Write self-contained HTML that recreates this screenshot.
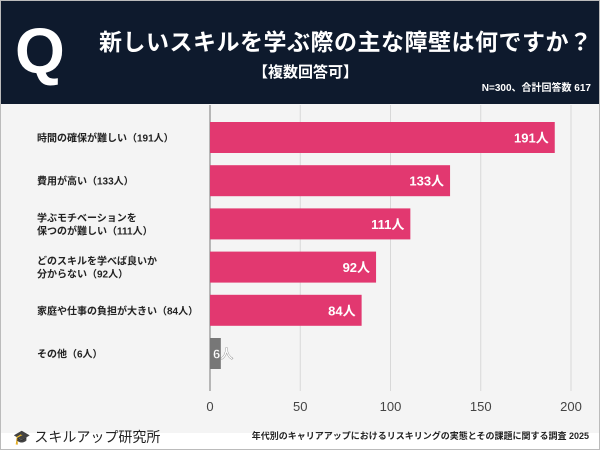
<!DOCTYPE html>
<html><head><meta charset="utf-8"><style>
body{margin:0;width:600px;height:450px;overflow:hidden;background:#fff;font-family:"Liberation Sans","Noto Sans CJK JP",sans-serif}
#wrap{position:relative;width:598px;height:448px;border:1px solid #bbb;background:#f4f4f4}
#hdr{position:absolute;left:0;top:0;width:598px;height:103px;background:#0e1a2d;color:#fff}
#foot{position:absolute;left:0;top:432px;width:598px;height:16px;background:#fff}
</style></head><body>
<div id="wrap">
<div id="hdr">
  <div style="position:absolute;left:14px;top:18px;font-size:64px;font-weight:900;line-height:64px">Q</div>
  <div style="position:absolute;left:98px;top:22px;font-size:23px;font-weight:bold;letter-spacing:0.5px">新しいスキルを学ぶ際の主な障壁は何ですか？</div>
  <div style="position:absolute;left:252px;top:60px;font-size:15px;font-weight:bold">【複数回答可】</div>
  <div style="position:absolute;right:8px;top:78px;font-size:10px;font-weight:bold">N=300、合計回答数 617</div>
</div>
<svg id="chart" width="598" height="448" style="position:absolute;left:0;top:0"></svg>
<div id="foot">
  <div style="position:absolute;left:12px;top:-6px;font-size:14px;color:#222">🎓 スキルアップ研究所</div>
  <div style="position:absolute;right:10px;top:-4px;font-size:9px;font-weight:bold;color:#222">年代別のキャリアアップにおけるリスキリングの実態とその課題に関する調査 2025</div>
</div>
</div>
<script>
const categories=["時間の確保が難しい（191人）","費用が高い（133人）","学ぶモチベーションを\n保つのが難しい（111人）","どのスキルを学べば良いか\n分からない（92人）","家庭や仕事の負担が大きい（84人）","その他（6人）"];
const values=[191,133,111,92,84,6];
const ticks=[0,50,100,150,200];
const svg=document.getElementById('chart');
const NS='http://www.w3.org/2000/svg';
const x=v=>209+v*1.805;
const y=i=>121+i*43.2;
const bh=31;
function mk(t,a){const e=document.createElementNS(NS,t);for(const k in a)e.setAttribute(k,a[k]);svg.appendChild(e);return e;}
ticks.forEach(t=>{
  const l=mk('line',{x1:x(t),x2:x(t),y1:104,y2:390,stroke:t===0?'#777':'#d8d8d8','stroke-width':1});
  
  
  const tx=mk('text',{x:x(t),y:410,'text-anchor':'middle','font-size':13,fill:'#444'});
  tx.textContent=t;
  
  
});
values.forEach((v,i)=>{
  const other=i===values.length-1;
  const r=mk('rect',{x:x(0),y:y(i),width:x(v)-x(0),height:bh,fill:other?'#777':'#e23870'});
  
  
  const lab=mk('text',{x:other?x(0)+3:x(v)-6,y:y(i)+bh/2+5,'text-anchor':other?'start':'end','font-size':13,'font-weight':'bold',fill:'#fff'});
  lab.textContent=v+'人';
  if(other){lab.setAttribute('stroke','#888');lab.setAttribute('stroke-width','0.4');}
  
  
  const lines=categories[i].split('\n');
  const t=mk('text',{x:36,y:y(i)+bh/2+4-(lines.length-1)*6.5,'font-size':10,'font-weight':'bold',fill:'#222'});
  lines.forEach((s,j)=>{const ts=document.createElementNS(NS,'tspan');ts.setAttribute('x',36);if(j)ts.setAttribute('dy',13);ts.textContent=s;t.appendChild(ts);});
  
  
});
</script>
</body></html>
